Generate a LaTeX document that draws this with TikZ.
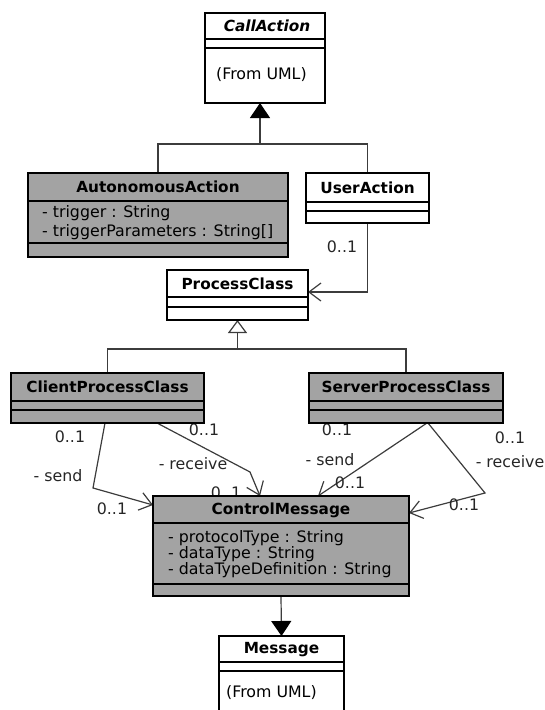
\documentclass[tikz,border=0pt]{standalone}
\usepackage{fontspec}
\setmainfont{DejaVu Sans}
\usetikzlibrary{arrows.meta,calc}
\definecolor{boxgray}{RGB}{163,163,163}
\definecolor{linkgray}{RGB}{60,60,60}
\pgfdeclarelayer{links}
\pgfsetlayers{links,main}

% class box: name, x1, y1, x2, y2, fill
\newcommand\umlbox[6]{%
  \node[classbox, fill=#6, minimum width={#4-#2}, minimum height={#5-#3}] (#1) at (#2,#3) {};}
% compartment divider inside a box
\newcommand\umlrule[3]{\draw[divider] (#1,#3) -- (#2,#3);}

\begin{document}
\begin{tikzpicture}[x=1pt,y=-1pt,
  classbox/.style={draw=black, line width=2.4pt, anchor=north west, inner sep=0pt, outer sep=0pt},
  divider/.style={draw=black, line width=1.3pt},
  cname/.style={font=\fontsize{15.3}{17}\selectfont\bfseries, inner sep=0pt},
  attr/.style={font=\fontsize{15.8}{17}\selectfont, anchor=west, inner sep=0pt},
  lbl/.style={font=\fontsize{15.8}{17}\selectfont, text=black!85, inner sep=0pt},
  conn/.style={draw=linkgray, line width=1.2pt},
  assoc/.style={conn, -{Straight Barb[length=12pt,width=18pt]}},
  realize/.style={conn, -{Triangle[length=15pt,width=20pt,fill=black,color=black]}},
  inherit/.style={conn, -{Triangle[open,length=13pt,width=19pt,fill=white]}}]

\useasboundingbox (0,0) rectangle (545,710);
\begin{scope}
\clip (0,0) rectangle (545,710);

% ---- class boxes ----
\umlbox{ca}{205}{13}{325}{103}{white}
\umlrule{205}{325}{39}\umlrule{205}{325}{48}
\node[cname, font=\fontsize{15.3}{17}\selectfont\bfseries\itshape] (caN) at (267,26) {CallAction};
\node[attr] (caF) at (216,75) {(From UML)};

\umlbox{aa}{28}{173}{288}{257}{boxgray}
\umlrule{28}{288}{201}\umlrule{28}{288}{243}
\node[cname] (aaN) at (158,187) {AutonomousAction};
\node[attr] (aa1) at (42,213) {- trigger : String};
\node[attr] (aa2) at (42,232) {- triggerParameters : String[]};

\umlbox{ua}{306}{173}{429}{223}{white}
\umlrule{306}{429}{202}\umlrule{306}{429}{211}
\node[cname] (uaN) at (367.5,188) {UserAction};

\umlbox{pc}{167}{270}{308}{320}{white}
\umlrule{167}{308}{297}\umlrule{167}{308}{307}
\node[cname] (pcN) at (237.5,284) {ProcessClass};

\umlbox{cpc}{11}{373}{204}{423}{boxgray}
\umlrule{11}{204}{401}\umlrule{11}{204}{410}
\node[cname] (cpcN) at (107.5,387) {ClientProcessClass};

\umlbox{spc}{309}{373}{503}{423}{boxgray}
\umlrule{309}{503}{401}\umlrule{309}{503}{410}
\node[cname] (spcN) at (406,387) {ServerProcessClass};

\umlbox{cm}{153}{496}{409}{596}{boxgray}
\umlrule{153}{409}{523}\umlrule{153}{409}{584}
\node[cname] (cmN) at (281,510) {ControlMessage};
\node[attr] (cm1) at (168,538) {- protocolType : String};
\node[attr] (cm2) at (168,554) {- dataType : String};
\node[attr] (cm3) at (168,570) {- dataTypeDefinition : String};

\umlbox{msg}{219}{636}{344}{740}{white}
\umlrule{219}{344}{662}\umlrule{219}{344}{671}
\node[cname] (msgN) at (281.5,650) {Message};
\node[attr] (msgF) at (226,693) {(From UML)};

% ---- connectors and role labels (drawn underneath the boxes) ----
\begin{pgfonlayer}{links}
  % generalisations to CallAction
  \coordinate (g1) at (260,144);
  \draw[conn] (aa.north) |- (g1) -| (ua.north);
  \draw[realize] (g1) -- (g1 |- ca.south);

  % UserAction -> ProcessClass
  \draw[assoc] (ua.south) |- ([yshift=3pt]pc.east);
  \node[lbl] (uaM) at (342,247) {0..1};

  % generalisations to ProcessClass
  \coordinate (g2) at (237.5,349);
  \draw[conn] (cpc.north) |- (g2) -| (spc.north);
  \draw[inherit] (g2) -- (pc.south);

  % ClientProcessClass -> ControlMessage
  \coordinate (cs) at (93,488);
  \coordinate (cr) at (250,472);
  \draw[assoc] ([xshift=-2.5pt]cpc.south) -- (cs) -- ([yshift=-9pt]cm.north west);
  \draw[assoc] ([xshift=49.5pt]cpc.south) -- (cr) -- ([xshift=107pt]cm.north west);
  \node[lbl] (cs1) at (70,437) {0..1};
  \node[lbl] (cs2) at (58,476) {- send};
  \node[lbl] (cs3) at (112,509) {0..1};
  \node[lbl] (cr1) at (204,430) {0..1};
  \node[lbl] (cr2) at (193,464) {- receive};
  \node[lbl, anchor=base] (cr3) at (226,498) {0..1};

  % ServerProcessClass -> ControlMessage
  \coordinate (sr) at (485,493);
  \draw[assoc] ([xshift=21pt]spc.south) -- ([xshift=165pt]cm.north west);
  \draw[assoc] ([xshift=22pt]spc.south) -- (sr) -- ([yshift=-17pt]cm.north east);
  \node[lbl] (ss1) at (337,430) {0..1};
  \node[lbl] (ss2) at (330,460) {- send};
  \node[lbl] (ss3) at (350,483) {0..1};
  \node[lbl] (sr1) at (510,438) {0..1};
  \node[lbl] (sr2) at (510,462) {- receive};
  \node[lbl] (sr3) at (464,505) {0..1};

  % ControlMessage -> Message
  \draw[realize] (cm.south) -- (msg.north);
\end{pgfonlayer}
\end{scope}
\end{tikzpicture}
\end{document}
